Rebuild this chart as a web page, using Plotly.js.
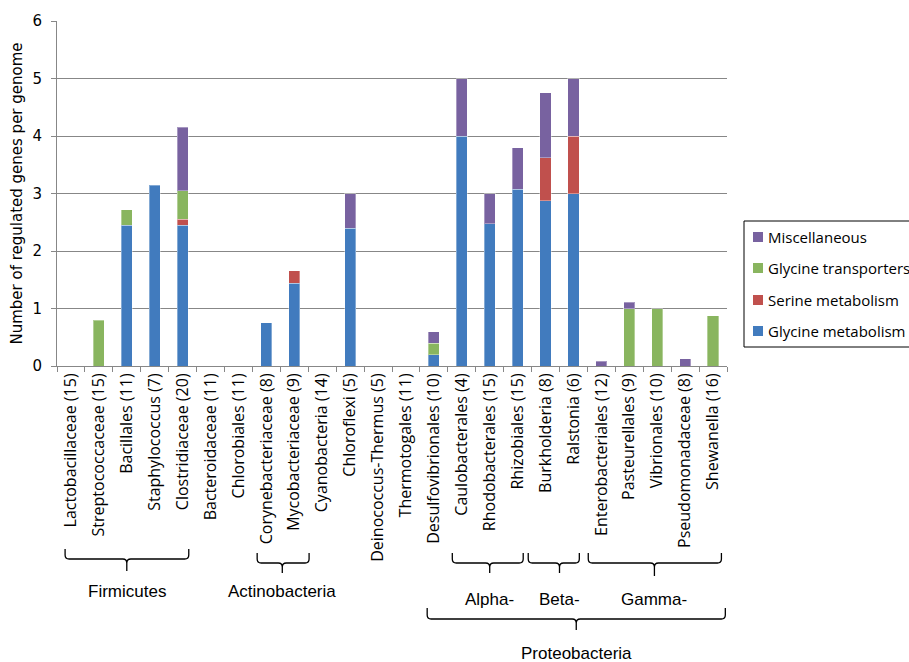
<!DOCTYPE html>
<html>
<head>
<meta charset="utf-8">
<script src="https://cdn.plot.ly/plotly-3.0.1.min.js"></script>
<style>html,body{margin:0;padding:0;background:#fff;}#chart{width:909px;height:662px;}</style>
</head>
<body>
<div id="chart"></div>
<script>
// ---- data ----
var categories = [
  'Lactobacillaceae (15)', 'Streptococcaceae (15)', 'Bacillales (11)', 'Staphylococcus (7)',
  'Clostridiaceae (20)', 'Bacteroidaceae (11)', 'Chlorobiales (11)', 'Corynebacteriaceae (8)',
  'Mycobacteriaceae (9)', 'Cyanobacteria (14)', 'Chloroflexi (5)', 'Deinococcus-Thermus (5)',
  'Thermotogales (11)', 'Desulfovibrionales (10)', 'Caulobacterales (4)', 'Rhodobacterales (15)',
  'Rhizobiales (15)', 'Burkholderia (8)', 'Ralstonia (6)', 'Enterobacteriales (12)',
  'Pasteurellales (9)', 'Vibrionales (10)', 'Pseudomonadaceae (8)', 'Shewanella (16)'
];
var glycineMetabolism   = [0, 0, 2.45, 3.14, 2.45, 0, 0, 0.75, 1.44, 0, 2.4, 0, 0, 0.2, 4, 2.47, 3.07, 2.875, 3, 0, 0, 0, 0, 0];
var serineMetabolism    = [0, 0, 0, 0, 0.1, 0, 0, 0, 0.22, 0, 0, 0, 0, 0, 0, 0, 0, 0.75, 1, 0, 0, 0, 0, 0];
var glycineTransporters = [0, 0.8, 0.27, 0, 0.5, 0, 0, 0, 0, 0, 0, 0, 0, 0.2, 0, 0, 0, 0, 0, 0, 1, 1, 0, 0.875];
var miscellaneous       = [0, 0, 0, 0, 1.1, 0, 0, 0, 0, 0, 0.6, 0, 0, 0.2, 1, 0.53, 0.73, 1.125, 1, 0.083, 0.11, 0, 0.125, 0];

var seriesNames = ['Glycine metabolism', 'Serine metabolism', 'Glycine transporters', 'Miscellaneous'];
var yTitle = 'Number of regulated genes per genome';

// taxonomic groups shown with braces under the axis
var groupLabels = ['Firmicutes', 'Actinobacteria', 'Alpha-', 'Beta-', 'Gamma-', 'Proteobacteria'];
var groupFirst  = ['Lactobacillaceae (15)', 'Corynebacteriaceae (8)', 'Caulobacterales (4)', 'Burkholderia (8)', 'Enterobacteriales (12)', 'Desulfovibrionales (10)'];
var groupLast   = ['Clostridiaceae (20)', 'Mycobacteriaceae (9)', 'Rhizobiales (15)', 'Ralstonia (6)', 'Shewanella (16)', 'Shewanella (16)'];

// ---- styling / layout ----
var colors = ['#417BBE', '#C0504D', '#89B55F', '#7862A0'];
var W = 909, H = 662;
var L = 57, T = 21, PW = 670, PH = 345;
var gridColor = '#878787';
var labelFont = 'Open Sans, Noto Sans, sans-serif';

function nz(a) { return a.map(function (v) { return v === 0 ? null : v; }); }
var seriesData = [glycineMetabolism, serineMetabolism, glycineTransporters, miscellaneous];
var traces = seriesData.map(function (vals, i) {
  return {
    type: 'bar', name: seriesNames[i], x: categories, y: nz(vals),
    marker: {color: colors[i], line: {color: 'rgba(255,255,255,0.35)', width: 1}},
    showlegend: false, hoverinfo: 'x+y+name'
  };
});

function idxPx(i) { return L + PW * (i + 0.5) / categories.length; }
function px2x(p) { return (p - L) / PW; }
function py2y(p) { return (T + PH - p) / PH; }
function pt(x, y) { return px2x(x).toFixed(5) + ',' + py2y(y).toFixed(5); }

// brace geometry (pixels): [padLeft, padRight, yTop, yMid, yStem, labelY, stemOffset]
var braceGeom = [
  [0.21, 0.22, 549, 559, 571, 591, 0],
  [0.33, 0.53, 553, 563, 573, 591, 0.07],
  [0.34, 0.20, 553, 563, 573, 599, 0],
  [0.62, 0.21, 553, 563, 573, 599, 0],
  [0.47, 0.30, 553, 563, 576, 599, -0.1],
  [0.24, 0.44, 608, 619, 630, 653, 0.1]
];

var shapes = [], annotations = [];
groupLabels.forEach(function (lab, g) {
  var gm = braceGeom[g];
  var i0 = categories.indexOf(groupFirst[g]), i1 = categories.indexOf(groupLast[g]);
  var x0 = idxPx(i0 - gm[0]), x1 = idxPx(i1 + gm[1]);
  var xc = idxPx((i0 + i1) / 2 + gm[6]);
  var yT = gm[2], yM = gm[3], yS = gm[4], r = 4;
  var path = 'M' + pt(x0, yT) + ' L' + pt(x0, yM - r) + ' Q' + pt(x0, yM) + ' ' + pt(x0 + r, yM) +
    ' L' + pt(xc - r, yM) + ' Q' + pt(xc, yM) + ' ' + pt(xc, yM + r) + ' L' + pt(xc, yS) +
    ' M' + pt(xc, yM + r) + ' Q' + pt(xc, yM) + ' ' + pt(xc + r, yM) +
    ' L' + pt(x1 - r, yM) + ' Q' + pt(x1, yM) + ' ' + pt(x1, yM - r) + ' L' + pt(x1, yT);
  shapes.push({type: 'path', xref: 'paper', yref: 'paper', path: path,
    line: {color: '#000', width: 1.3}});
  annotations.push({xref: 'paper', yref: 'paper', x: px2x(xc), y: py2y(gm[5]),
    xanchor: 'center', yanchor: 'middle', showarrow: false, text: lab,
    font: {family: 'Liberation Sans, Arial', size: 17, color: '#000'}});
});

// legend key (top item = last series), drawn as a boxed key to the right of the plot
var legBox = {x0: 744, x1: 920, y0: 221, y1: 347};
var legRowY = [237, 268, 300, 331];
shapes.push({type: 'rect', xref: 'paper', yref: 'paper',
  x0: px2x(legBox.x0), x1: px2x(legBox.x1), y0: py2y(legBox.y1), y1: py2y(legBox.y0),
  line: {color: '#000', width: 1}, fillcolor: 'rgba(0,0,0,0)'});
for (var k = 0; k < seriesNames.length; k++) {
  var si = seriesNames.length - 1 - k;
  var cy = legRowY[k];
  shapes.push({type: 'rect', xref: 'paper', yref: 'paper',
    x0: px2x(753), x1: px2x(763), y0: py2y(cy + 5), y1: py2y(cy - 5),
    line: {width: 0}, fillcolor: colors[si]});
  annotations.push({xref: 'paper', yref: 'paper', x: px2x(766), y: py2y(cy),
    xanchor: 'left', yanchor: 'middle', showarrow: false, text: seriesNames[si],
    font: {family: labelFont, size: 15, color: '#000'}});
}

var layout = {
  width: W, height: H,
  margin: {l: L, r: W - L - PW, t: T, b: H - T - PH, autoexpand: false},
  paper_bgcolor: '#fff', plot_bgcolor: '#fff',
  barmode: 'stack', bargap: 0.6,
  showlegend: false,
  xaxis: {
    type: 'category', tickson: 'boundaries', ticks: 'outside', ticklen: 5, tickcolor: gridColor,
    showline: true, linecolor: gridColor, linewidth: 1, showgrid: false, tickangle: -90,
    tickfont: {family: labelFont, size: 16, color: '#000'}, automargin: false,
    fixedrange: true
  },
  yaxis: {
    range: [0, 6], dtick: 1, tick0: 0, ticks: 'outside', ticklen: 5, tickcolor: gridColor,
    showline: true, linecolor: gridColor, linewidth: 1,
    showgrid: true, gridcolor: gridColor, gridwidth: 1, zeroline: false,
    tickfont: {family: 'DejaVu Sans, Verdana', size: 15, color: '#000'}, ticklabelstandoff: 6,
    title: {text: yTitle, font: {family: 'DejaVu Sans, Verdana', size: 15, color: '#000'}, standoff: 6},
    automargin: false, fixedrange: true
  },
  shapes: shapes,
  annotations: annotations
};

Plotly.newPlot('chart', traces, layout, {displayModeBar: false, staticPlot: true});
</script>
</body>
</html>
